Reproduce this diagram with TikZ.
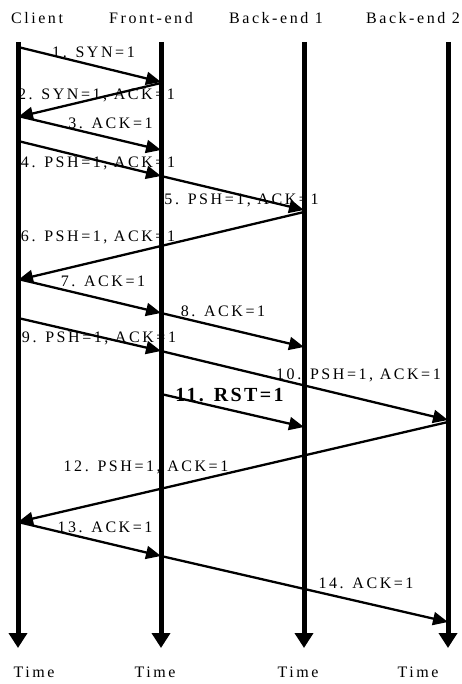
\documentclass[tikz,border=0pt]{standalone}
\usepackage{fontspec}
\setmainfont{Liberation Serif}
\newfontfamily\spacedfont{Liberation Serif}[LetterSpace=16]
\newfontfamily\spacedbold{Liberation Serif}[LetterSpace=12,UprightFont=*-Bold]
\usetikzlibrary{arrows.meta}
\begin{document}
\begin{tikzpicture}[x=1pt,y=-1pt,
  life/.style={line width=5pt,-{Triangle[length=15pt,width=18pt]}},
  msg/.style={line width=2.3pt,-{Triangle[length=15pt,width=13pt]}},
  lbl/.style={font=\spacedfont\fontsize{16}{19}\selectfont,inner sep=0pt,anchor=center},
  blbl/.style={font=\spacedbold\fontsize{20}{23}\selectfont,inner sep=0pt,anchor=center}]
\useasboundingbox (0,0) rectangle (462,684);
% headers
\node[lbl] (hC) at (37,18) {Client};
\node[lbl] (hF) at (151,18) {Front-end};
\node[lbl] (hB1) at (276,18) {Back-end 1};
\node[lbl] (hB2) at (413,18) {Back-end 2};
% lifelines
\coordinate (Ct) at (18,42);  \coordinate (Cb) at (18,648);
\coordinate (Ft) at (161,42); \coordinate (Fb) at (161,648);
\coordinate (B1t) at (304,42); \coordinate (B1b) at (304,648);
\coordinate (B2t) at (448,42); \coordinate (B2b) at (448,648);
\draw[life] (Ct) -- (Cb);
\draw[life] (Ft) -- (Fb);
\draw[life] (B1t) -- (B1b);
\draw[life] (B2t) -- (B2b);
% time labels
\node[lbl] (tC) at (34,672) {Time};
\node[lbl] (tF) at (155,672) {Time};
\node[lbl] (tB1) at (298,672) {Time};
\node[lbl] (tB2) at (418,672) {Time};
% message end points
\coordinate (c1) at (18,47);   \coordinate (f1) at (161,82);
\coordinate (f2) at (161,83);  \coordinate (c2) at (18,117);
\coordinate (c3) at (18,116);  \coordinate (f3) at (161,150);
\coordinate (c4) at (18,141);  \coordinate (f4) at (161,176);
\coordinate (f5) at (161,176); \coordinate (b5) at (304,210);
\coordinate (b6) at (304,212); \coordinate (c6) at (18,280);
\coordinate (c7) at (18,279);  \coordinate (f7) at (161,313);
\coordinate (f8) at (161,313); \coordinate (b8) at (304,347);
\coordinate (c9) at (18,318);  \coordinate (f9) at (161,351);
\coordinate (f10) at (161,351); \coordinate (d10) at (448,420);
\coordinate (f11) at (161,394); \coordinate (b11) at (304,427);
\coordinate (d12) at (448,422); \coordinate (c12) at (18,522);
\coordinate (c13) at (18,522); \coordinate (f13) at (161,556);
\coordinate (f14) at (161,556); \coordinate (d14) at (448,622);
% messages
\draw[msg] (c1) -- (f1);
\draw[msg] (f2) -- (c2);
\draw[msg] (c3) -- (f3);
\draw[msg] (c4) -- (f4);
\draw[msg] (f5) -- (b5);
\draw[msg] (b6) -- (c6);
\draw[msg] (c7) -- (f7);
\draw[msg] (f8) -- (b8);
\draw[msg] (c9) -- (f9);
\draw[msg] (f10) -- (d10);
\draw[msg] (f11) -- (b11);
\draw[msg] (d12) -- (c12);
\draw[msg] (c13) -- (f13);
\draw[msg] (f14) -- (d14);
% labels
\node[lbl] (l1) at (93.5,52) {1. SYN=1};
\node[lbl] (l2) at (96.5,95) {2. SYN=1, ACK=1};
\node[lbl] (l3) at (110.5,123) {3. ACK=1};
\node[lbl] (l4) at (98,163) {4. PSH=1, ACK=1};
\node[lbl] (l5) at (241.5,200) {5. PSH=1, ACK=1};
\node[lbl] (l6) at (98,237) {6. PSH=1, ACK=1};
\node[lbl] (l7) at (103,281) {7. ACK=1};
\node[lbl] (l8) at (223,311) {8. ACK=1};
\node[lbl] (l9) at (99,338) {9. PSH=1, ACK=1};
\node[lbl] (l10) at (358.5,375) {10. PSH=1, ACK=1};
\node[blbl] (l11) at (229.5,395) {11. RST=1};
\node[lbl] (l12) at (146,467) {12. PSH=1, ACK=1};
\node[lbl] (l13) at (105,527) {13. ACK=1};
\node[lbl] (l14) at (366,583) {14. ACK=1};
\end{tikzpicture}
\end{document}
